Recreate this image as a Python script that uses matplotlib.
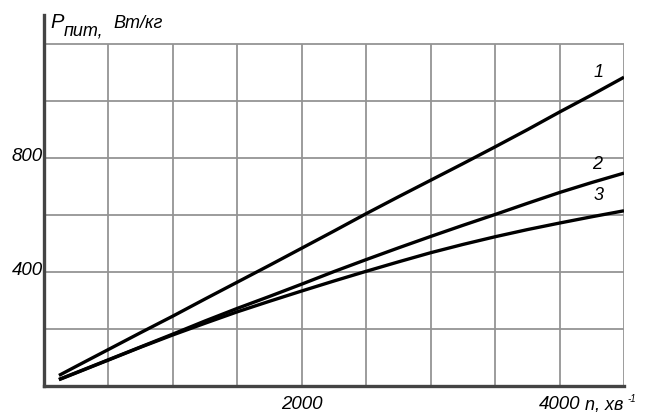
import matplotlib
matplotlib.use("Agg")
import matplotlib.pyplot as plt
from matplotlib.transforms import ScaledTranslation

plt.rcParams['font.family'] = ['Liberation Sans', 'DejaVu Sans']

# rotational speed n, rpm
n = [116, 250, 500, 750, 1000, 1250, 1500, 1750, 2000, 2250,
     2500, 2750, 3000, 3250, 3500, 3750, 4000, 4250, 4500]
# specific power P, W/kg, for the three curves
p1 = [37, 69, 128, 187, 245, 305, 364, 423, 483, 543,
      604, 663, 721, 779, 838, 898, 960, 1020, 1082]
p2 = [23, 47, 92, 137, 182, 228, 272, 314, 357, 401,
      443, 484, 524, 563, 601, 640, 678, 713, 746]
p3 = [22, 46, 91, 136, 179, 220, 260, 297, 333, 368,
      402, 435, 467, 496, 523, 548, 571, 593, 614]
curves = [p1, p2, p3]
curve_names = ["1", "2", "3"]
label_pos = [(4300, 1068), (4290, 748), (4300, 636)]

x_ticks = [2000, 4000]
y_ticks = [400, 800]
grid_x = [500, 1000, 1500, 2000, 2500, 3000, 3500, 4000, 4500]
grid_y = [200, 400, 600, 800, 1000, 1200]

W, H = 646, 412
fig = plt.figure(figsize=(W / 100, H / 100), dpi=100)
ax = fig.add_axes([44 / W, 1 - 386 / H, 580 / W, 371 / H])
ax.set_xlim(0, 4500)
ax.set_ylim(0, 1300)

# grid
ax.hlines(grid_y, 0, 4500, colors="#949494", lw=1.3, zorder=1)
ax.vlines(grid_x, 0, 1200, colors="#949494", lw=1.3, zorder=1)

for p in curves:
    ax.plot(n, p, color="black", lw=2.4, solid_capstyle="butt",
            solid_joinstyle="round", zorder=3)

for name, (xx, yy) in zip(curve_names, label_pos):
    ax.text(xx, yy, name, fontsize=13, style="italic", ha="center", va="bottom")

for s in ["top", "right"]:
    ax.spines[s].set_visible(False)
for s in ["left", "bottom"]:
    ax.spines[s].set_color("#444444")
    ax.spines[s].set_linewidth(2.4)
    ax.spines[s].set_zorder(4)

ax.set_xticks(x_ticks)
ax.set_xticklabels([str(v) for v in x_ticks])
ax.set_yticks(y_ticks)
ax.set_yticklabels([str(v) for v in y_ticks])
ax.tick_params(length=0, labelsize=13.5)
ax.tick_params(axis="x", pad=7)
ax.tick_params(axis="y", pad=1)
for lab in ax.get_xticklabels() + ax.get_yticklabels():
    lab.set_style("italic")
for lab in ax.get_yticklabels():
    lab.set_transform(lab.get_transform() + ScaledTranslation(0, 3 / 100, fig.dpi_scale_trans))


def fx(px):
    return px / W


def fy(py):
    return 1 - py / H


# axis titles
fig.text(fx(50), fy(28), "P", fontsize=14.5, style="italic", va="baseline")
fig.text(fx(64), fy(35), "пит,", fontsize=13, style="italic", va="baseline")
fig.text(fx(113), fy(28), "Вт/кг", fontsize=13, style="italic", va="baseline")

fig.text(fx(585), fy(409), "n, хв", fontsize=13, style="italic", va="baseline")
fig.text(fx(627), fy(402), "-1", fontsize=7, style="italic", va="baseline")

fig.savefig("out.png", dpi=100)
